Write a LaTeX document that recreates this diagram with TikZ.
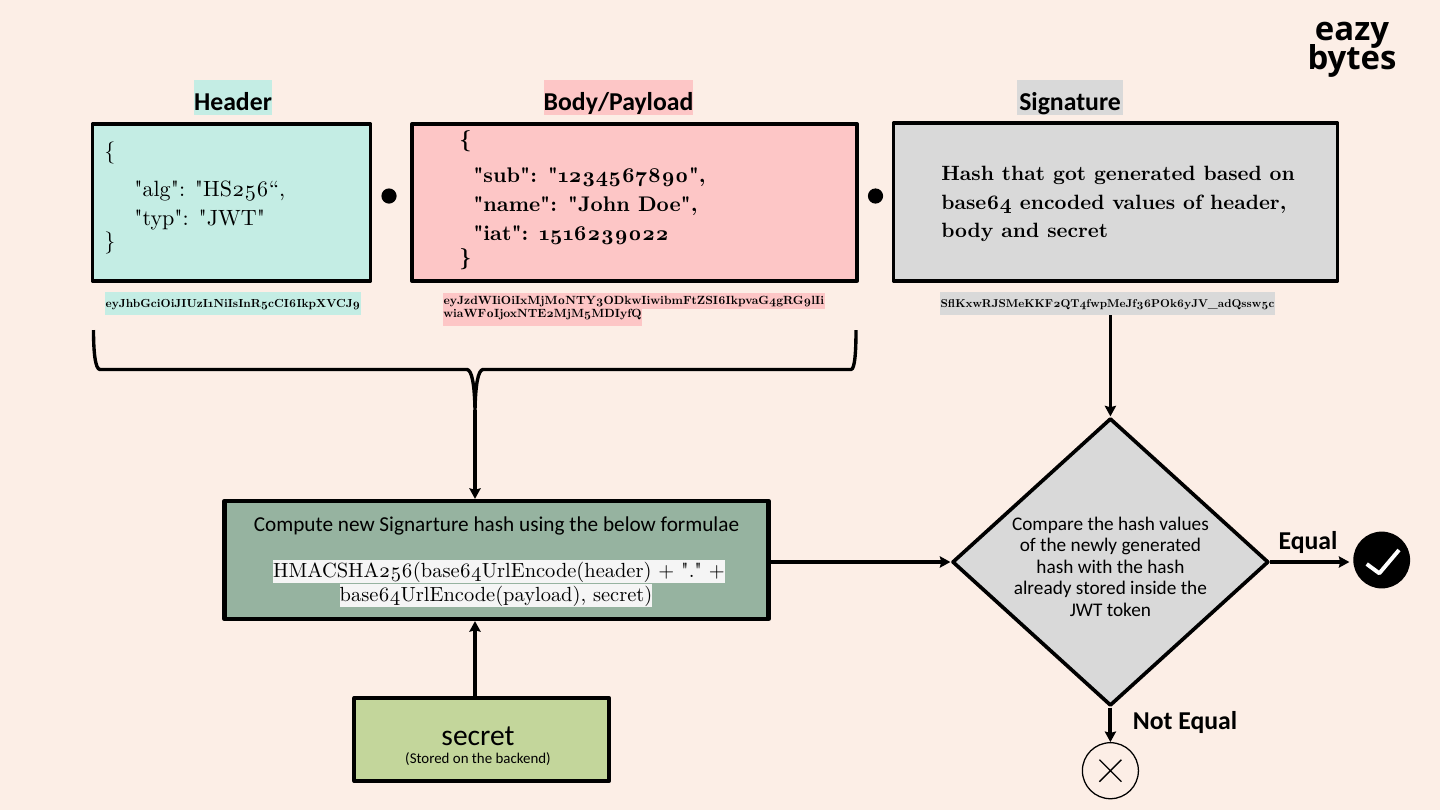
\documentclass[tikz,border=0pt]{standalone}
\usepackage{fontspec}
\setmainfont{Latin Modern Roman}[Numbers=OldStyle,Ligatures=TeXOff,OpticalSize=10,BoldFeatures={OpticalSize=10}]
\newfontfamily\labelfont{Carlito}
\newfontfamily\logofont{Open Sans}
\usetikzlibrary{shapes.geometric,arrows.meta}
\definecolor{pagebg}{HTML}{FCEEE6}
\definecolor{mint}{HTML}{C4EDE4}
\definecolor{rose}{HTML}{FDC6C6}
\definecolor{ash}{HTML}{D9D9D9}
\definecolor{sage}{HTML}{96B3A0}
\definecolor{olive}{HTML}{C3D69B}
\definecolor{paper}{HTML}{F5F5F5}
\tikzset{
	partbox/.style={draw,line width=2.3pt,inner sep=0pt},
	parttitle/.style={inner sep=0pt,minimum height=.875cm,text height=21.8pt,text depth=3.1pt,font=\labelfont\bfseries\fontsize{18.3}{20}\selectfont},
	partline/.style={anchor=base west,inner sep=0pt,font=\fontsize{15.7}{18}\selectfont},
	boldline/.style={partline,font=\bfseries\fontsize{15.05}{18}\selectfont},
	hashline/.style={partline,font=\bfseries\fontsize{14.7}{18}\selectfont},
	codetag/.style={inner sep=0pt,text height=10.7pt,text depth=5.7pt,font=\bfseries\fontsize{8.3}{10}\selectfont},
	formulatag/.style={fill=paper,inner sep=0pt,text height=11.9pt,text depth=4pt,font=\fontsize{14.55}{16}\selectfont},
	outcome/.style={inner sep=0pt,font=\labelfont\bfseries\fontsize{18.3}{20}\selectfont},
	dot/.style={circle,fill=black,inner sep=0pt,minimum size=.38cm},
	flow/.style={->,line width=2.2pt},
}
\begin{document}
\begin{tikzpicture}[x=.025cm,y=-.025cm,line join=round,>={Stealth[length=7.5pt,width=8pt,inset=1pt]}]
	\fill[pagebg] (0,0) rectangle (1440,810);
	\useasboundingbox (0,0) rectangle (1440,810);
	\node[inner sep=0pt,align=center,font=\logofont\bfseries\fontsize{23.4}{19.9}\selectfont] (logo) at (1352,50) {eazy\\[-4pt]bytes};
	\node[parttitle,fill=mint,minimum width=1.945cm] (headertitle) at (233,97.5) {Header};
	\node[parttitle,fill=rose,minimum width=3.64cm] (bodytitle) at (618.5,97.5) {Body/Payload};
	\node[parttitle,fill=ash,minimum width=2.65cm] (signtitle) at (1070,97.5) {Signature};
	\node[partbox,fill=mint,minimum width=6.95cm,minimum height=3.925cm] (header) at (231.5,202.5) {};
	\node[partbox,fill=rose,minimum width=11.125cm,minimum height=3.925cm] (body) at (634.5,202.5) {};
	\node[partbox,fill=ash,minimum width=11.1cm,minimum height=3.95cm] (sign) at (1115.5,202) {};
	\node[dot] (dotone) at (389,196) {};
	\node[dot] (dottwo) at (875.5,196) {};
	\foreach \i/\px/\py/\t in {1/104/158/\{,2/134/196/{"alg": "HS256“,},3/134/225/{"typ": "JWT"},4/104/248/\}}
		\node[partline] (headerline\i) at (\px,\py) {\t};
	\foreach \i/\px/\py/\t in {1/459/146/\{,2/473/182/{"sub": "1234567890",},3/473/211/{"name": "John Doe",},4/473/240/{"iat": 1516239022},5/459/264/\}}
		\node[boldline] (bodyline\i) at (\px,\py) {\t};
	\foreach \i/\py/\t in {1/180/Hash that got generated based on,2/209/{base64 encoded values of header,},3/237/body and secret}
		\node[hashline] (signline\i) at (941,\py) {\t};
	\node[codetag,fill=mint,minimum width=6.4cm] (headercode) at (233,303.5) {eyJhbGciOiJIUzI1NiIsInR5cCI6IkpXVCJ9};
	\node[codetag,fill=rose,anchor=west,minimum width=9.53cm,text height=8pt,text depth=3.1pt,font=\bfseries\fontsize{8.45}{10}\selectfont] (bodycodeone) at (443,300.8) {eyJzdWIiOiIxMjM0NTY3ODkwIiwibmFtZSI6IkpvaG4gRG9lIi};
	\node[codetag,fill=rose,anchor=west,text height=6.4pt,text depth=5.7pt,font=\bfseries\fontsize{8.45}{10}\selectfont] (bodycodetwo) at (443,317.2) {wiaWF0IjoxNTE2MjM5MDIyfQ};
	\node[codetag,fill=ash,minimum width=8.37cm,font=\bfseries\fontsize{8.12}{10}\selectfont] (signcode) at (1107.5,303.5) {SflKxwRJSMeKKF2QT4fwpMeJf36POk6yJV\_adQssw5c};
	\draw[line width=2.4pt] (93.5,330) .. controls (93.5,350) and (95,369.5) .. (100,369.5) -- (467,369.5) .. controls (472,370) and (474.5,385) .. (475,410) .. controls (475.5,385) and (478,370) .. (483,369.5) -- (851,369.5) .. controls (855,369.5) and (856,350) .. (856,330);
	\coordinate (bracetip) at (475,410);
	\node[draw,fill=sage,line width=3pt,inner sep=0pt,minimum width=13.6cm,minimum height=2.95cm] (compute) at (496.5,560) {};
	\node[inner sep=0pt,font=\labelfont\fontsize{15.1}{18}\selectfont] (computetitle) at (496.5,526) {Compute new Signarture hash using the below formulae};
	\node[formulatag] (formulaone) at (499,571.5) {HMACSHA256(base64UrlEncode(header) + "." +};
	\node[formulatag] (formulatwo) at (496,595.5) {base64UrlEncode(payload), secret)};
	\node[draw,fill=olive,line width=2.8pt,inner sep=0pt,minimum width=6.37cm,minimum height=2.07cm] (secret) at (481.7,739.5) {};
	\node[inner sep=0pt,font=\labelfont\fontsize{21}{24}\selectfont] (secretname) at (478,736) {secret};
	\node[inner sep=0pt,font=\labelfont\fontsize{10.6}{12}\selectfont] (secretnote) at (478,759) {(Stored on the backend)};
	\node[diamond,draw,fill=ash,line width=2.6pt,inner sep=0pt,shape aspect=1.1,minimum width=7.85cm,minimum height=7.08cm,align=center,font=\labelfont\fontsize{13.7}{15.3}\selectfont] (compare) at (1110.4,562) {\rule{0pt}{16pt}Compare the hash values\\of the newly generated\\hash with the hash\\already stored inside the\\JWT token};
	\node[circle,fill=black,inner sep=0pt,minimum size=1.42cm] (valid) at (1381.7,560) {};
	\draw[white,line width=2.8pt] (1366.7,564) -- (1379.3,573.3) -- (1399,550);
	\node[circle,draw,fill=pagebg,line width=.9pt,inner sep=0pt,minimum size=1.4cm] (invalid) at (1110.4,770.7) {};
	\draw[line width=.9pt] (invalid.center) ++(-11,-11) -- ++(22,22) (invalid.center) ++(11,-11) -- ++(-22,22);
	\node[outcome] (equal) at (1308,542) {Equal};
	\node[outcome] (notequal) at (1185,722) {Not Equal};
	\draw[flow] (bracetip) -- (bracetip |- compute.north);
	\draw[flow,line width=2.6pt] (bracetip |- secret.north) -- (bracetip |- compute.south);
	\draw[flow] (compute.east |- compare.west) -- (compare.west);
	\draw[flow] (signcode.south -| compare.north) -- (compare.north);
	\draw[flow] (compare.east) -- ++(79,0) coordinate (validend);
	\draw[flow,line width=2.8pt] (compare.south) -- (invalid.north);
\end{tikzpicture}
\end{document}
